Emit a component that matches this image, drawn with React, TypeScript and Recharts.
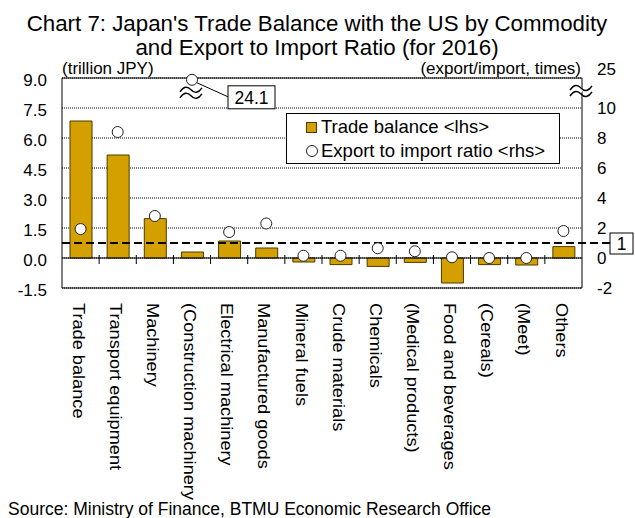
import React from "react";
import {
  ComposedChart,
  Bar,
  Line,
  XAxis,
  YAxis,
  CartesianGrid,
  ReferenceLine,
  Legend,
} from "recharts";

const categories = [
  "Trade balance",
  "Transport equipment",
  "Machinery",
  "(Construction machinery",
  "Electrical machinery",
  "Manufactured goods",
  "Mineral fuels",
  "Crude materials",
  "Chemicals",
  "(Medical products)",
  "Food and beverages",
  "(Cereals)",
  "(Meet)",
  "Others",
];

// trillion JPY (lhs)
const tradeBalance = [6.85, 5.15, 1.97, 0.3, 0.85, 0.5, -0.2, -0.33, -0.42, -0.22, -1.25, -0.33, -0.35, 0.57];
// export / import, times (rhs)
const exportImportRatio = [1.93, 8.4, 2.8, 24.1, 1.73, 2.3, 0.15, 0.15, 0.65, 0.45, 0.05, 0.0, 0.0, 1.8];

const leftTicks = [-1.5, 0, 1.5, 3, 4.5, 6, 7.5, 9];
const rightTicks = [-2, 0, 2, 4, 6, 8, 10, 12];
const rightTickLabels = ["-2", "0", "2", "4", "6", "8", "10", "25"];

const FONT = '"Liberation Sans", Arial, sans-serif';
const GOLD = "#D4A000";
const BAR_EDGE = "#4a3a00";

// rhs axis is broken above 10: 10..25 squeezed into 10..12
function toRightAxis(v: number) {
  return v <= 10 ? v : 10 + ((v - 10) / 15) * 2;
}

const data = categories.map((name, i) => ({
  name,
  balance: tradeBalance[i],
  ratio: exportImportRatio[i],
  ratioPlot: toRightAxis(exportImportRatio[i]),
}));

function BreakMark({ x, y }: { x: number; y: number }) {
  const wave = (yy: number) => `M${x - 11},${yy + 3} q5.5,-8 11,-2 t11,-2`;
  return (
    <g>
      <path d={`M${x - 11},${y - 1} q5.5,-8 11,-2 t11,-2 l0,6 q-5.5,-6 -11,2 t-11,2 z`} fill="#fff" stroke="none" />
      <path d={wave(y - 3)} fill="none" stroke="#000" strokeWidth={1.4} />
      <path d={wave(y + 3)} fill="none" stroke="#000" strokeWidth={1.4} />
    </g>
  );
}

function RatioDot(props: any) {
  const { cx, cy, payload, index } = props;
  if (cx == null || cy == null) return <g key={index} />;
  const broken = payload.ratio > 10;
  return (
    <g key={index}>
      {broken && <BreakMark x={cx - 1} y={cy + 12} />}
      {broken && (
        <g>
          <line x1={cx + 5} x2={cx + 36} y1={cy + 3} y2={cy + 17} stroke="#000" strokeWidth={1} />
          <rect x={cx + 36} y={cy + 6} width={47} height={23} fill="#fff" stroke="#000" strokeWidth={1} />
          <text x={cx + 59.5} y={cy + 18} textAnchor="middle" dominantBaseline="central" fontSize={17.5} fontFamily={FONT} fill="#000">
            {payload.ratio.toFixed(1)}
          </text>
        </g>
      )}
      <circle cx={cx} cy={cy} r={5.5} fill="#fff" stroke="#222" strokeWidth={1} />
    </g>
  );
}

function ZeroLine(props: any) {
  const left = Math.min(props.x1, props.x2);
  const right = Math.max(props.x1, props.x2);
  const y0 = props.y1;
  const step = (right - left) / categories.length;
  const ticks = [];
  for (let i = 1; i < categories.length; i++) {
    const x = left + step * i;
    ticks.push(<line key={i} x1={x} x2={x} y1={y0 - 3} y2={y0 + 6} stroke="#000" strokeWidth={1} />);
  }
  return (
    <g>
      <line x1={left} x2={right} y1={y0} y2={y0} stroke="#000" strokeWidth={1} />
      {ticks}
    </g>
  );
}

function ParityLine(props: any) {
  const left = Math.min(props.x1, props.x2);
  const right = Math.max(props.x1, props.x2);
  const y0 = props.y1;
  return (
    <g>
      <line x1={left} x2={right + 28} y1={y0} y2={y0} stroke="#000" strokeWidth={2} strokeDasharray="8 4" />
      <rect x={right + 28} y={y0 - 10} width={23} height={21} fill="#fff" stroke="#000" strokeWidth={1} />
      <text x={right + 39.5} y={y0 + 0.5} textAnchor="middle" dominantBaseline="central" fontSize={17.5} fontFamily={FONT} fill="#000">
        1
      </text>
    </g>
  );
}

function CategoryTick(props: any) {
  const { x, y, payload } = props;
  return (
    <text
      transform={`translate(${x - 2},${y + 7}) rotate(90) scale(1.07,1)`}
      textAnchor="start"
      dominantBaseline="central"
      fontSize={17}
      fontFamily={FONT}
      fill="#000"
    >
      {payload.value}
    </text>
  );
}

function RightTick(props: any) {
  const { x, y, payload, index } = props;
  const top = payload.value === 12;
  return (
    <g>
      {top && <BreakMark x={x - 16} y={y + 12} />}
      <text x={x} y={top ? y - 9 : y} dy="0.36em" textAnchor="start" fontSize={17} fontFamily={FONT} fill="#000">
        {rightTickLabels[index] ?? payload.value}
      </text>
    </g>
  );
}

function LegendBox() {
  const row: React.CSSProperties = { display: "flex", alignItems: "center", height: 24, whiteSpace: "nowrap" };
  return (
    <div
      style={{
        border: "1px solid #000",
        background: "#fff",
        boxSizing: "border-box",
        width: 274,
        height: 51,
        padding: "1px 0 0 19px",
        fontFamily: FONT,
        fontSize: 18.5,
        color: "#000",
      }}
    >
      <div style={row}>
        <span style={{ width: 9, height: 9, background: GOLD, border: `1px solid ${BAR_EDGE}`, marginRight: 4 }} />
        Trade balance &lt;lhs&gt;
      </div>
      <div style={row}>
        <span
          style={{
            width: 10,
            height: 10,
            borderRadius: "50%",
            background: "#fff",
            border: "1px solid #222",
            marginRight: 3,
          }}
        />
        Export to import ratio &lt;rhs&gt;
      </div>
    </div>
  );
}

export default function App() {
  return (
    <div style={{ position: "absolute", left: 0, top: 0, width: 635, height: 518, background: "#fff", fontFamily: FONT }}>
      <ComposedChart
        width={635}
        height={518}
        data={data}
        margin={{ top: 78, right: 0, bottom: 0, left: 0 }}
        barSize={22}
      >
        <CartesianGrid yAxisId="left" vertical={false} stroke="#000" strokeDasharray="1 1" />
        <XAxis
          dataKey="name"
          interval={0}
          height={230}
          tickLine={false}
          axisLine={{ stroke: "#000" }}
          tick={<CategoryTick />}
        />
        <YAxis
          yAxisId="left"
          domain={[-1.5, 9]}
          ticks={leftTicks}
          width={62}
          tickLine={false}
          tickMargin={9}
          axisLine={{ stroke: "#000" }}
          tickFormatter={(v: number) => v.toFixed(1)}
          tick={{ fontSize: 17, fill: "#000", fontFamily: FONT, dy: 2 }}
        />
        <YAxis
          yAxisId="right"
          orientation="right"
          domain={[-2, 12]}
          ticks={rightTicks}
          width={53}
          tickLine={false}
          tickMargin={9}
          axisLine={{ stroke: "#000" }}
          tick={<RightTick />}
        />
        <ReferenceLine yAxisId="left" y={9} stroke="#000" strokeWidth={1} />
        <Bar
          yAxisId="left"
          dataKey="balance"
          name="Trade balance <lhs>"
          fill={GOLD}
          stroke={BAR_EDGE}
          strokeWidth={1}
          isAnimationActive={false}
        />
        <ReferenceLine yAxisId="left" y={0} shape={<ZeroLine />} />
        <ReferenceLine yAxisId="right" y={1} shape={<ParityLine />} />
        <Line
          yAxisId="right"
          dataKey="ratioPlot"
          name="Export to import ratio <rhs>"
          stroke="none"
          dot={RatioDot}
          activeDot={false}
          isAnimationActive={false}
        />
        <Legend
          layout="vertical"
          align="center"
          verticalAlign="middle"
          content={<LegendBox />}
          wrapperStyle={{ position: "absolute", left: 286, top: 113, width: 274, height: 51 }}
        />
      </ComposedChart>

      <svg width={635} height={518} style={{ position: "absolute", left: 0, top: 0, pointerEvents: "none" }}>
        <text x={317} y={31} textAnchor="middle" fontSize={22.3} fontFamily={FONT} fill="#000">
          Chart 7: Japan's Trade Balance with the US by Commodity
        </text>
        <text x={317} y={55} textAnchor="middle" fontSize={22.3} fontFamily={FONT} fill="#000">
          and Export to Import Ratio (for 2016)
        </text>
        <text x={62} y={74} fontSize={17} fontFamily={FONT} fill="#000">
          (trillion JPY)
        </text>
        <text x={581} y={74} textAnchor="end" fontSize={17} fontFamily={FONT} fill="#000">
          (export/import, times)
        </text>
        <text x={8} y={514.5} fontSize={17.5} fontFamily={FONT} fill="#000">
          Source: Ministry of Finance, BTMU Economic Research Office
        </text>
      </svg>
    </div>
  );
}
